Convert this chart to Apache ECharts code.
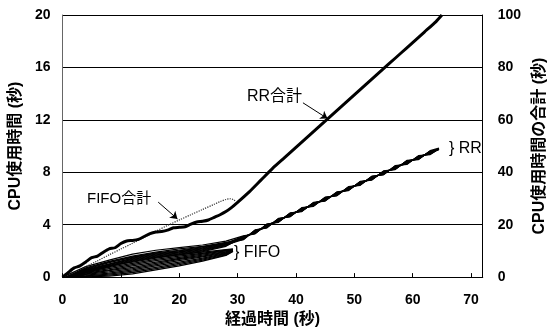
<!DOCTYPE html>
<html>
<head>
<meta charset="utf-8">
<script src="https://cdn.jsdelivr.net/npm/echarts@6/dist/echarts.min.js"></script>
<style>
  html, body { margin: 0; padding: 0; background: #fff; }
  #chart { width: 556px; height: 333px; }
</style>
</head>
<body>
<div id="chart"></div>
<script>
// Elapsed-time samples (s) and per-process CPU time (s) under round robin
const rrTimes = [0, 4, 8, 12, 16, 20, 24, 28, 31, 33, 35, 37, 39, 41, 43, 45, 47, 49, 51, 53, 55, 57, 59, 61, 63, 64.5];
const rr1  = [0, 0.80, 1.30, 1.75, 2.05, 2.25, 2.45, 2.75, 3.15, 3.30, 4.05, 4.18, 4.90, 5.00, 5.70, 5.80, 6.50, 6.60, 7.30, 7.40, 8.10, 8.20, 8.90, 8.97, 9.65, 9.85];
const rr2  = [0, 0.70, 1.20, 1.60, 1.90, 2.15, 2.35, 2.65, 2.85, 3.60, 3.75, 4.48, 4.60, 5.30, 5.40, 6.10, 6.20, 6.90, 7.00, 7.70, 7.80, 8.50, 8.60, 9.27, 9.35, 9.80];
const rr3  = [0, 0.65, 1.15, 1.55, 1.85, 2.05, 2.30, 2.60, 3.10, 3.35, 4.00, 4.23, 4.85, 5.05, 5.65, 5.85, 6.45, 6.65, 7.25, 7.45, 8.05, 8.25, 8.85, 9.02, 9.60, 9.78];
const rr4  = [0, 0.60, 1.10, 1.50, 1.80, 2.00, 2.25, 2.58, 2.90, 3.55, 3.80, 4.43, 4.65, 5.25, 5.45, 6.05, 6.25, 6.85, 7.05, 7.65, 7.85, 8.45, 8.65, 9.22, 9.40, 9.82];
const rr5  = [0, 0.55, 1.00, 1.45, 1.75, 1.95, 2.20, 2.55, 3.05, 3.40, 3.95, 4.28, 4.80, 5.10, 5.60, 5.90, 6.40, 6.70, 7.20, 7.50, 8.00, 8.30, 8.80, 9.07, 9.55, 9.76];
const rr6  = [0, 0.55, 1.00, 1.40, 1.70, 1.90, 2.15, 2.50, 2.95, 3.50, 3.85, 4.38, 4.70, 5.20, 5.50, 6.00, 6.30, 6.80, 7.10, 7.60, 7.90, 8.40, 8.70, 9.17, 9.45, 9.80];
const rr7  = [0, 0.50, 0.95, 1.35, 1.65, 1.85, 2.10, 2.48, 3.12, 3.33, 4.02, 4.21, 4.87, 5.03, 5.67, 5.83, 6.47, 6.63, 7.27, 7.43, 8.07, 8.23, 8.87, 9.00, 9.62, 9.74];
const rr8  = [0, 0.45, 0.90, 1.30, 1.60, 1.80, 2.05, 2.45, 2.88, 3.57, 3.78, 4.45, 4.63, 5.27, 5.43, 6.07, 6.23, 6.87, 7.03, 7.67, 7.83, 8.47, 8.63, 9.24, 9.38, 9.78];
const rr9  = [0, 0.40, 0.85, 1.25, 1.55, 1.75, 2.00, 2.40, 3.00, 3.45, 3.90, 4.33, 4.75, 5.15, 5.55, 5.95, 6.35, 6.75, 7.15, 7.55, 7.95, 8.35, 8.75, 9.12, 9.50, 9.72];
const rr10 = [0, 0.35, 0.80, 1.20, 1.50, 1.70, 1.95, 2.35, 3.08, 3.37, 3.98, 4.25, 4.83, 5.07, 5.63, 5.87, 6.43, 6.67, 7.23, 7.47, 8.03, 8.27, 8.83, 9.04, 9.58, 9.76];

// Per-process CPU time (s) under FIFO
const fifoTimes = [0, 4, 8, 12, 16, 20, 24, 28, 29.2];
const fifo1  = [0, 0.45, 0.85, 1.15, 1.45, 1.70, 1.90, 2.10, 2.15];
const fifo2  = [0, 0.40, 0.75, 1.05, 1.35, 1.60, 1.82, 2.05, 2.12];
const fifo3  = [0, 0.35, 0.65, 0.95, 1.25, 1.50, 1.75, 2.00, 2.10];
const fifo4  = [0, 0.30, 0.55, 0.85, 1.15, 1.42, 1.68, 1.95, 2.08];
const fifo5  = [0, 0.25, 0.50, 0.75, 1.05, 1.35, 1.60, 1.90, 2.05];
const fifo6  = [0, 0.20, 0.40, 0.65, 0.95, 1.25, 1.55, 1.85, 2.04];
const fifo7  = [0, 0.15, 0.30, 0.55, 0.85, 1.15, 1.45, 1.80, 2.02];
const fifo8  = [0, 0.10, 0.22, 0.45, 0.75, 1.05, 1.38, 1.75, 2.00];
const fifo9  = [0, 0.05, 0.15, 0.35, 0.65, 0.95, 1.30, 1.70, 1.98];
const fifo10 = [0, 0.02, 0.08, 0.25, 0.55, 0.85, 1.22, 1.65, 1.96];

// Totals (right axis, s)
const rrTotalTimes = [0,1,2,3,4,5,6,7,8,9,10,11,12,13,14,15,16,17,18,19,20,21,22,23,24,25,26,27,28,29,30,32,34,36,38,40,42,44,46,48,50,52,54,56,58,60,62,64,65];
const rrTotal = [0,1.8,3.5,4.3,5.8,7.4,8.0,9.5,10.8,11.2,12.8,13.8,14.0,14.4,15.5,16.6,17.2,17.4,17.9,18.8,19.0,19.2,20.2,21.0,21.3,21.8,22.8,23.8,25.0,26.6,28.5,32.5,37.0,41.5,45.5,49.5,53.5,57.5,61.5,65.5,69.5,73.5,77.5,81.5,85.5,89.5,93.5,97.5,100];
const fifoTotalTimes = [0, 2, 4, 6, 8, 10, 12, 14, 16, 18, 20, 22, 24, 26, 27, 28, 28.8, 29.4, 29.7];
const fifoTotal = [0, 1.8, 4.0, 6.2, 8.5, 10.7, 12.9, 15.2, 17.5, 19.7, 21.8, 23.8, 25.8, 27.8, 28.8, 29.6, 29.9, 29.4, 28.6];

// Axis ticks
const xTicks = [0, 10, 20, 30, 40, 50, 60, 70];
const leftTicks = [0, 4, 8, 12, 16, 20];
const rightTicks = [0, 20, 40, 60, 80, 100];

const rrLines = [rr1, rr2, rr3, rr4, rr5, rr6, rr7, rr8, rr9, rr10];
const fifoLines = [fifo1, fifo2, fifo3, fifo4, fifo5, fifo6, fifo7, fifo8, fifo9, fifo10];

const pair = (xs, ys) => xs.map((x, i) => [x, ys[i]]);
const FONT = '"Liberation Sans", "Noto Sans CJK JP", sans-serif';

const series = [];
fifoLines.forEach(v => series.push({
  type: 'line', xAxisIndex: 0, yAxisIndex: 0, data: pair(fifoTimes, v),
  showSymbol: false,
  lineStyle: { color: '#000', width: 1.3 }, silent: true, z: 2
}));
rrLines.forEach(v => series.push({
  type: 'line', xAxisIndex: 0, yAxisIndex: 0, data: pair(rrTimes, v),
  showSymbol: false,
  lineStyle: { color: '#000', width: 1.2 }, silent: true, z: 3
}));
series.push({
  name: 'FIFO合計', type: 'line', yAxisIndex: 1, data: pair(fifoTotalTimes, fifoTotal),
  showSymbol: false, smooth: 0.3,
  lineStyle: { color: '#333', width: 1.2, type: 'dotted' }, silent: true, z: 4,
  markLine: {
    silent: true, symbol: ['none', 'arrow'], symbolSize: 7, animation: false,
    label: { show: false },
    lineStyle: { color: '#000', width: 1, type: 'solid' },
    data: [[{ coord: [16.4, 28.6] }, { coord: [19.7, 22.2] }]]
  }
});
series.push({
  name: 'RR合計', type: 'line', yAxisIndex: 1, data: pair(rrTotalTimes, rrTotal),
  showSymbol: false, smooth: 0.2,
  lineStyle: { color: '#000', width: 3 }, silent: true, z: 5,
  markLine: {
    silent: true, symbol: ['none', 'arrow'], symbolSize: 7, animation: false,
    label: { show: false },
    lineStyle: { color: '#000', width: 1, type: 'solid' },
    data: [[{ coord: [41.2, 66.5] }, { coord: [45.4, 60.5] }]]
  }
});

const chart = echarts.init(document.getElementById('chart'), null, { renderer: 'canvas' });
chart.setOption({
  backgroundColor: '#fff',
  animation: false,
  grid: { left: 56, right: 65, top: 15, bottom: 52, containLabel: false },
  xAxis: {
    type: 'value', min: 0, max: 72, interval: 10,
    name: '経過時間 (秒)', nameLocation: 'middle', nameGap: 32,
    nameTextStyle: { fontFamily: FONT, fontSize: 16, fontWeight: 'bold', color: '#000' },
    axisLine: { show: true, lineStyle: { color: '#000', width: 1 } },
    axisTick: { show: true, inside: true, length: 4, lineStyle: { color: '#000' } },
    axisLabel: {
      show: true, margin: 16, color: '#000', fontFamily: FONT, fontSize: 14, fontWeight: 'bold',
      showMaxLabel: false,
      formatter: v => (xTicks.includes(v) ? String(v) : '')
    },
    splitLine: { show: false }
  },
  yAxis: [
    {
      type: 'value', min: 0, max: 20, interval: 4, position: 'left',
      name: 'CPU使用時間 (秒)', nameLocation: 'middle', nameRotate: 90, nameGap: 30,
      nameTextStyle: { fontFamily: FONT, fontSize: 16, fontWeight: 'bold', color: '#000' },
      axisLine: { show: true, lineStyle: { color: '#666', width: 1 } },
      axisTick: { show: false },
      axisLabel: {
        margin: 12, color: '#000', fontFamily: FONT, fontSize: 14, fontWeight: 'bold',
        formatter: v => (leftTicks.includes(v) ? String(v) : '')
      },
      splitLine: { show: true, lineStyle: { color: '#000', width: 1 } }
    },
    {
      type: 'value', min: 0, max: 100, interval: 20, position: 'right',
      name: 'CPU使用時間の合計 (秒)', nameLocation: 'middle', nameRotate: 90, nameGap: 40,
      nameTextStyle: { fontFamily: FONT, fontSize: 16, fontWeight: 'bold', color: '#000' },
      axisLine: { show: true, lineStyle: { color: '#000', width: 1 } },
      axisTick: { show: false },
      axisLabel: {
        margin: 15, color: '#000', fontFamily: FONT, fontSize: 14, fontWeight: 'bold',
        formatter: v => (rightTicks.includes(v) ? String(v) : '')
      },
      splitLine: { show: false }
    }
  ],
  graphic: [
    { type: 'text', left: 247, top: 89, style: { text: 'RR合計', font: '16px ' + FONT, fill: '#000' }, silent: true },
    { type: 'text', left: 87, top: 191, style: { text: 'FIFO合計', font: '15px ' + FONT, fill: '#000' }, silent: true },
    { type: 'text', left: 449, top: 141, style: { text: '} RR', font: '16px ' + FONT, fill: '#000' }, silent: true },
    { type: 'text', left: 234, top: 245, style: { text: '} FIFO', font: '16px ' + FONT, fill: '#000' }, silent: true }
  ],
  series: series
});
</script>
</body>
</html>
